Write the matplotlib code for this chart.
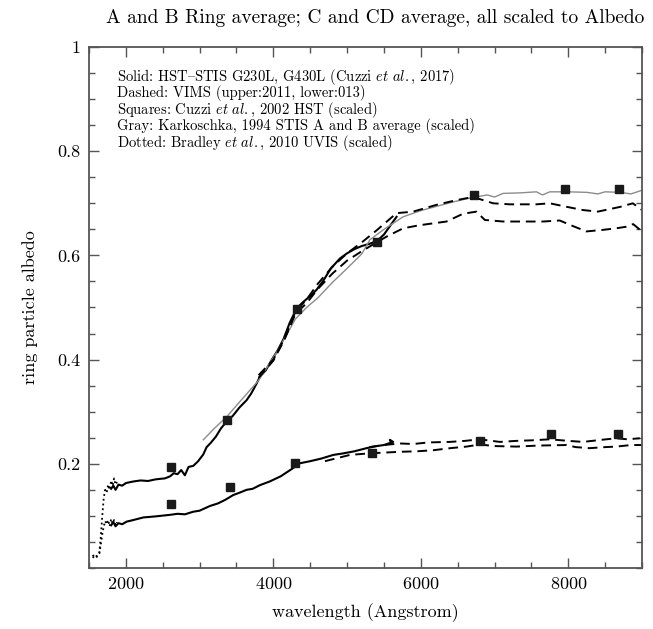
import matplotlib
matplotlib.use('Agg')
import matplotlib.pyplot as plt
from matplotlib.ticker import MultipleLocator

# --- A and B ring (upper group) ---
stis_ab_wl = [1800, 1830, 1860, 1900, 1950, 2000, 2100, 2200, 2300, 2400, 2460, 2530, 2600,
              2650, 2700, 2750, 2800, 2850, 2914, 2980, 3050, 3095, 3150, 3220, 3290, 3366,
              3450, 3540, 3637, 3700, 3773, 3817, 3900, 3980, 4060, 4140, 4220, 4315, 4400,
              4500, 4586, 4680, 4780, 4903, 5000, 5100, 5200, 5300, 5408, 5500, 5600, 5671]
stis_ab_val = [0.152, 0.158, 0.150, 0.160, 0.158, 0.163, 0.166, 0.168, 0.167, 0.170, 0.171,
               0.172, 0.176, 0.182, 0.180, 0.188, 0.178, 0.194, 0.196, 0.205, 0.218, 0.232,
               0.240, 0.252, 0.268, 0.281, 0.292, 0.308, 0.322, 0.335, 0.354, 0.367, 0.380,
               0.400, 0.418, 0.440, 0.470, 0.498, 0.510, 0.522, 0.534, 0.552, 0.575, 0.594,
               0.604, 0.612, 0.618, 0.622, 0.628, 0.640, 0.660, 0.674]

gray_ab_wl = [3050, 3200, 3366, 3550, 3800, 4050, 4300, 4450, 4600, 4800, 5000, 5200, 5309,
              5500, 5760, 6000, 6212, 6450, 6665, 6900, 7000, 7116, 7350, 7568, 7650, 7750,
              8000, 8250, 8400, 8500, 8700, 8850, 9000]
gray_ab_val = [0.246, 0.268, 0.290, 0.320, 0.360, 0.415, 0.478, 0.500, 0.518, 0.548, 0.575,
               0.603, 0.630, 0.650, 0.674, 0.686, 0.694, 0.703, 0.710, 0.716, 0.712, 0.719,
               0.720, 0.722, 0.716, 0.722, 0.722, 0.721, 0.718, 0.722, 0.721, 0.718, 0.725]

vims_ab_11_wl = [3800, 4000, 4150, 4300, 4450, 4600, 4800, 5000, 5200, 5400, 5670, 5896,
                 6212, 6483, 6665, 6800, 6981, 7207, 7568, 7749, 7950, 8200, 8400, 8600,
                 8700, 8875, 9000]
vims_ab_11_val = [0.370, 0.400, 0.440, 0.492, 0.515, 0.545, 0.578, 0.604, 0.625, 0.648,
                  0.681, 0.684, 0.697, 0.706, 0.711, 0.708, 0.700, 0.698, 0.698, 0.700,
                  0.694, 0.687, 0.684, 0.690, 0.693, 0.700, 0.687]

vims_ab_13_wl = [3800, 4000, 4150, 4300, 4450, 4600, 4800, 5000, 5200, 5400, 5535, 5760,
                 5987, 6348, 6574, 6755, 6868, 7116, 7342, 7658, 7884, 8050, 8245, 8471,
                 8650, 8787, 8880, 9000]
vims_ab_13_val = [0.365, 0.398, 0.438, 0.488, 0.508, 0.535, 0.565, 0.590, 0.608, 0.625,
                  0.636, 0.652, 0.658, 0.665, 0.680, 0.684, 0.668, 0.665, 0.665, 0.665,
                  0.667, 0.657, 0.646, 0.649, 0.652, 0.655, 0.660, 0.646]

# --- C and CD ring (lower group) ---
stis_c_wl = [1800, 1830, 1860, 1900, 1950, 2011, 2100, 2236, 2400, 2598, 2700, 2800, 2914,
             3000, 3140, 3250, 3350, 3456, 3550, 3637, 3720, 3818, 3950, 4100, 4250, 4360,
             4500, 4650, 4812, 4950, 5100, 5264, 5400, 5500, 5625, 5580, 5600]
stis_c_val = [0.082, 0.088, 0.080, 0.086, 0.084, 0.089, 0.092, 0.097, 0.099, 0.102, 0.104,
              0.103, 0.108, 0.110, 0.119, 0.124, 0.131, 0.140, 0.145, 0.150, 0.152, 0.159,
              0.166, 0.176, 0.190, 0.201, 0.205, 0.210, 0.217, 0.220, 0.224, 0.230, 0.234,
              0.236, 0.242, 0.246, 0.240]

vims_c_11_wl = [5300, 5500, 5716, 5900, 6100, 6394, 6600, 6800, 7071, 7300, 7500, 7749,
                8000, 8200, 8450, 8652, 8800, 8970]
vims_c_11_val = [0.232, 0.236, 0.239, 0.238, 0.241, 0.242, 0.244, 0.247, 0.242, 0.244,
                 0.245, 0.247, 0.244, 0.242, 0.246, 0.249, 0.247, 0.249]

vims_c_13_wl = [4700, 5038, 5300, 5716, 5950, 6168, 6400, 6619, 6800, 7000, 7297, 7600,
                7975, 8100, 8290, 8500, 8652, 8850, 9000]
vims_c_13_val = [0.205, 0.217, 0.220, 0.223, 0.224, 0.226, 0.230, 0.233, 0.237, 0.234,
                 0.233, 0.235, 0.236, 0.232, 0.230, 0.232, 0.233, 0.236, 0.236]

# --- UVIS dotted segments (far UV) ---
uvis_ab_wl = [1550, 1580, 1610, 1640, 1660, 1680, 1700, 1720, 1740, 1760, 1780, 1800,
              1820, 1840, 1860, 1880]
uvis_ab_val = [0.025, 0.020, 0.024, 0.030, 0.060, 0.100, 0.135, 0.150, 0.145, 0.160, 0.150,
               0.168, 0.158, 0.172, 0.160, 0.165]
uvis_c_wl = [1550, 1580, 1610, 1640, 1660, 1680, 1700, 1720, 1740, 1760, 1780, 1800,
             1820, 1840, 1860, 1880]
uvis_c_val = [0.022, 0.018, 0.022, 0.028, 0.045, 0.065, 0.080, 0.090, 0.084, 0.092, 0.080,
              0.094, 0.085, 0.092, 0.082, 0.088]

# --- Cuzzi et al. 2002 HST squares ---
sq_ab_wl = [2612, 3366, 4315, 5408, 6719, 7952, 8689]
sq_ab_val = [0.193, 0.285, 0.498, 0.626, 0.715, 0.727, 0.727]
sq_c_wl = [2612, 3411, 4300, 5332, 6800, 7772, 8675]
sq_c_val = [0.122, 0.155, 0.201, 0.221, 0.244, 0.258, 0.258]

# cmr10 keeps the TeX (OT1) layout: the en dash sits on the '{' slot
legend_lines = [
    r'Solid: HST{STIS G230L, G430L (Cuzzi $\it{et\ al.}$, 2017)',
    'Dashed: VIMS (upper:2011, lower:013)',
    r'Squares: Cuzzi $\it{et\ al.}$, 2002 HST (scaled)',
    'Gray: Karkoschka, 1994 STIS A and B average (scaled)',
    r'Dotted: Bradley $\it{et\ al.}$, 2010 UVIS (scaled)',
]


def plot_albedo():
    plt.rcParams['font.family'] = ['cmr10', 'DejaVu Serif']
    plt.rcParams['mathtext.fontset'] = 'cm'
    plt.rcParams['axes.formatter.use_mathtext'] = True

    fig = plt.figure(figsize=(6.53, 6.29), dpi=100)
    ax = fig.add_axes([0.1363, 0.0970, 0.8469, 0.8283])

    dash = (0, (5, 3))
    ax.plot(uvis_ab_wl, uvis_ab_val, color='black', linestyle=':', linewidth=1.3)
    ax.plot(uvis_c_wl, uvis_c_val, color='black', linestyle=':', linewidth=1.3)

    ax.plot(stis_ab_wl, stis_ab_val, color='black', linewidth=1.5)
    ax.plot(stis_c_wl, stis_c_val, color='black', linewidth=1.5)

    ax.plot(gray_ab_wl, gray_ab_val, color='#8c8c8c', linewidth=1.0)

    for wl, val in [(vims_ab_11_wl, vims_ab_11_val), (vims_ab_13_wl, vims_ab_13_val),
                    (vims_c_11_wl, vims_c_11_val), (vims_c_13_wl, vims_c_13_val)]:
        ax.plot(wl, val, color='black', linestyle=dash, linewidth=1.4)

    ax.plot(sq_ab_wl, sq_ab_val, 's', color='#1a1a1a', markersize=6)
    ax.plot(sq_c_wl, sq_c_val, 's', color='#1a1a1a', markersize=6)

    ax.set_xlim(1500, 9000)
    ax.set_ylim(0, 1)
    ax.xaxis.set_major_locator(MultipleLocator(2000))
    ax.xaxis.set_minor_locator(MultipleLocator(500))
    ax.yaxis.set_major_locator(MultipleLocator(0.2))
    ax.yaxis.set_minor_locator(MultipleLocator(0.05))
    ax.set_yticks([0.2, 0.4, 0.6, 0.8, 1.0])
    ax.set_yticklabels(['0.2', '0.4', '0.6', '0.8', '1'])

    ax.tick_params(which='both', direction='in', top=True, right=True,
                   labelsize=13, color='#555555', pad=6)
    ax.tick_params(which='major', length=7, width=1)
    ax.tick_params(which='minor', length=4, width=1)
    for spine in ax.spines.values():
        spine.set_color('#555555')
        spine.set_linewidth(1.3)

    ax.set_xlabel('wavelength (Angstrom)', fontsize=13, labelpad=8)
    ax.set_ylabel('ring particle albedo', fontsize=13, labelpad=14)
    fig.text(375 / 653, 1 - 18 / 629,
             'A and B Ring average; C and CD average, all scaled to Albedo',
             fontsize=14, ha='center', va='center')

    # one text block so the five lines keep the reference spacing
    ax.text(0.05, 0.962, '\n'.join(legend_lines), transform=ax.transAxes,
            fontsize=10.5, va='top', ha='left', linespacing=0.88)

    fig.savefig('out.png', dpi=100)
    plt.close(fig)


def main():
    plot_albedo()


if __name__ == '__main__':
    main()
